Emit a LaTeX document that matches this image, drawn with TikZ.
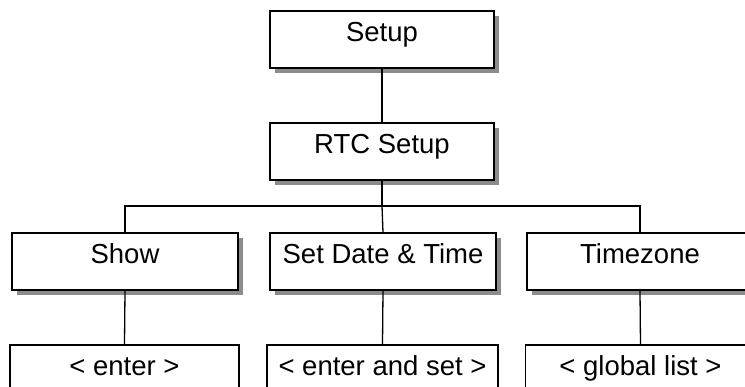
\documentclass[tikz,border=0pt]{standalone}
\usepackage{fontspec}
\setmainfont{Liberation Sans}
\usetikzlibrary{shadows}
\definecolor{shadowgray}{HTML}{8C8C8C}
\tikzset{
  box/.style={draw=black, line width=1.3pt, fill=white, rectangle, inner sep=0pt,
    minimum height=57pt, text height=30pt, text depth=25pt,
    font=\fontsize{27.5}{31}\selectfont},
  shbox/.style={box, general shadow={fill=shadowgray, shadow xshift=5pt, shadow yshift=-5pt}},
  conn/.style={draw=black, line width=1.3pt}
}
\begin{document}
\begin{tikzpicture}[x=1pt, y=-1pt]
\useasboundingbox (0,0) rectangle (745,387);
\clip (0,0) rectangle (745,387);
\node[shbox, minimum width=224pt] (setup) at (382,39.5) {Setup};
\node[shbox, minimum width=224pt] (rtc) at (382,151.5) {RTC Setup};
\node[shbox, minimum width=226pt] (show) at (125,261.5) {Show};
\node[shbox, minimum width=226pt] (sdt) at (383,261.5) {Set Date \& Time};
\node[shbox, minimum width=226pt] (tz) at (640,261.5) {Timezone};
\node[box, minimum width=229pt] (enter) at (124.5,373.5) {< enter >};
\node[box, minimum width=231pt] (enterset) at (382.5,373.5) {< enter and set >};
\node[box, minimum width=230pt] (glist) at (640.5,373.5) {< global list >};
\coordinate (bus) at (382,206);
\draw[conn] (setup.south) -- (rtc.north);
\draw[conn] (rtc.south) -- (bus);
\draw[conn] (show.north) |- (bus) -| (tz.north);
\draw[conn] (bus) -- (sdt.north);
\draw[conn] (show.south) -- (enter.north);
\draw[conn] (sdt.south) -- (enterset.north);
\draw[conn] (tz.south) -- (glist.north);
\end{tikzpicture}
\end{document}
